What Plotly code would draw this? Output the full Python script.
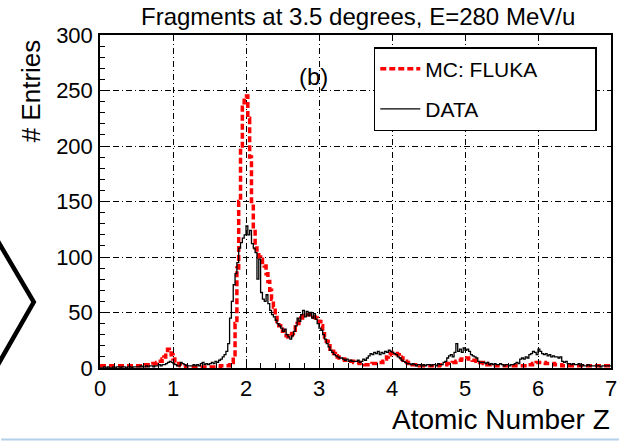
import numpy as np
import plotly.graph_objects as go

# ---------------- data ----------------
BIN_W = 0.025  # bin width in Z
Z_MIN, Z_MAX = 0.0, 7.0

# MC: FLUKA (entries per bin), each row covers 0.25 in Z
mc_fluka = [
    2, 2, 2, 2, 2, 2, 2, 2, 2, 2,
    2, 2, 2, 2, 2, 2, 2, 2, 2, 2,
    2, 2, 2, 2, 2, 3, 3, 3, 3, 4,
    4, 5, 6, 6, 8, 10, 14, 17, 16, 12,
    8, 5, 4, 3, 2, 2, 2, 1, 1, 1,
    1, 1, 1, 1, 1, 1, 1, 1, 1, 1,
    1, 1, 1, 1, 1, 1, 2, 2, 2, 2,
    2, 3, 5, 12, 40, 90, 150, 200, 235, 245,
    245, 225, 190, 150, 125, 108, 102, 100, 98, 95,
    92, 85, 78, 70, 62, 55, 48, 42, 38, 35,
    33, 31, 29, 28, 29, 31, 34, 37, 40, 43,
    45, 47, 48, 48, 48, 48, 47, 46, 45, 44,
    42, 38, 33, 28, 24, 20, 17, 15, 13, 11,
    10, 9, 8, 8, 7, 7, 6, 6, 6, 5,
    5, 5, 4, 4, 4, 3, 3, 3, 3, 4,
    4, 4, 4, 5, 5, 6, 8, 10, 12, 13,
    14, 14, 13, 12, 10, 9, 7, 6, 5, 4,
    4, 3, 3, 3, 3, 2, 2, 2, 2, 2,
    2, 2, 2, 2, 2, 2, 3, 3, 3, 3,
    4, 4, 4, 5, 5, 6, 7, 7, 8, 8,
    8, 9, 8, 8, 7, 7, 6, 6, 5, 5,
    4, 4, 3, 3, 3, 2, 2, 2, 2, 2,
    2, 2, 2, 2, 2, 2, 2, 2, 2, 2,
    2, 2, 2, 2, 3, 3, 3, 4, 4, 5,
    5, 5, 5, 5, 4, 4, 4, 4, 4, 3,
    3, 3, 3, 2, 2, 2, 2, 2, 2, 2,
    2, 2, 2, 2, 2, 2, 2, 2, 2, 2,
    2, 2, 2, 2, 2, 2, 2, 2, 2, 2,
]

# DATA (entries per bin), each row covers 0.25 in Z
data_counts = [
    0, 0, 1, 0, 1, 0, 0, 1, 0, 1,
    1, 0, 1, 1, 0, 1, 1, 0, 1, 1,
    1, 1, 2, 1, 1, 2, 1, 2, 2, 1,
    2, 2, 3, 2, 3, 3, 4, 5, 6, 5,
    4, 3, 2, 2, 5, 4, 3, 2, 2, 2,
    2, 3, 2, 3, 2, 4, 5, 3, 4, 3,
    4, 5, 4, 6, 5, 7, 8, 10, 12, 15,
    22, 45, 60, 75, 85, 95, 108, 113, 117, 120,
    128, 120, 124, 112, 108, 104, 80, 98, 68, 62,
    60, 66, 58, 52, 48, 46, 43, 40, 38, 36,
    33, 35, 30, 28, 26, 29, 33, 38, 45, 42,
    48, 52, 46, 51, 47, 50, 45, 49, 44, 40,
    36, 34, 30, 26, 22, 19, 16, 14, 12, 11,
    10, 9, 9, 8, 7, 8, 6, 7, 6, 6,
    6, 7, 5, 6, 8, 7, 9, 11, 13, 12,
    14, 13, 15, 12, 14, 13, 15, 14, 16, 15,
    14, 13, 12, 10, 9, 7, 6, 5, 4, 4,
    3, 4, 3, 2, 3, 3, 2, 3, 2, 3,
    3, 2, 3, 3, 2, 4, 3, 3, 5, 6,
    9, 11, 12, 10, 14, 22, 15, 17, 14, 18,
    16, 17, 15, 12, 11, 10, 9, 6, 5, 5,
    5, 4, 5, 3, 4, 3, 4, 3, 3, 4,
    3, 2, 3, 3, 2, 3, 3, 4, 5, 4,
    8, 9, 8, 10, 9, 12, 13, 15, 14, 12,
    17, 15, 13, 12, 13, 11, 12, 10, 11, 10,
    10, 9, 10, 6, 5, 6, 4, 4, 3, 4,
    3, 3, 4, 2, 3, 2, 2, 3, 2, 2,
    2, 2, 2, 2, 1, 2, 2, 2, 2, 2,
]

x_ticks = [0, 1, 2, 3, 4, 5, 6, 7]
y_ticks = [0, 50, 100, 150, 200, 250, 300]

TITLE = "Fragments at 3.5 degrees, E=280 MeV/u"
X_TITLE = "Atomic Number Z"
Y_TITLE = "# Entries"
MC_NAME = "MC: FLUKA"
DATA_NAME = "DATA"

# --------------- figure ---------------
W, H = 625, 441
ML, MR, MT, MB = 100, 8, 35, 73
PW, PH = W - ML - MR, H - MT - MB


def px_x(p):  # pixel -> paper x
    return (p - ML) / PW


def px_y(p):  # pixel -> paper y
    return (H - MB - p) / PH


def step_xy(counts):
    n = len(counts)
    edges = Z_MIN + np.arange(n + 1) * BIN_W
    ys = list(counts) + [counts[-1]]
    return edges, ys


FONT = "Liberation Sans, Arial, sans-serif"
PAD = "\u00a0" * 9  # widens the legend box to the reference size

fig = go.Figure()
ex, ey = step_xy(mc_fluka)
fig.add_trace(go.Scatter(
    x=ex, y=ey, mode="lines", line_shape="hv", name=MC_NAME + PAD,
    legendgroup="a",
    line=dict(color="#ff0000", width=3.5, dash="6px,3px"),
))
dx, dy = step_xy(data_counts)
fig.add_trace(go.Scatter(
    x=dx, y=dy, mode="lines", line_shape="hv", name=DATA_NAME,
    legendgroup="b",
    line=dict(color="#000000", width=1.3),
))

axis_common = dict(
    showline=True, linecolor="black", linewidth=1.5, mirror=True,
    ticks="inside", ticklen=9, tickwidth=1, tickcolor="black",
    showgrid=True, gridcolor="black", gridwidth=0.9, griddash="6px,3px,1px,3px",
    zeroline=False,
    tickfont=dict(family=FONT, size=22, color="black"),
)

fig.update_xaxes(
    range=[Z_MIN, Z_MAX], tickvals=x_ticks, ticktext=[str(v) for v in x_ticks],
    minor=dict(dtick=0.2, ticklen=5, tickcolor="black", ticks="inside", showgrid=False),
    **axis_common,
)
fig.update_yaxes(
    range=[0, 300], tickvals=y_ticks, ticktext=[str(v) for v in y_ticks],
    minor=dict(dtick=10, ticklen=5, tickcolor="black", ticks="inside", showgrid=False),
    ticklabelstandoff=1,
    **axis_common,
)

fig.update_layout(
    width=W, height=H,
    margin=dict(l=ML, r=MR, t=MT, b=MB, pad=0),
    paper_bgcolor="white", plot_bgcolor="white",
    font=dict(family=FONT, color="black"),
    showlegend=True,
    legend=dict(
        x=px_x(377), y=px_y(47), xanchor="left", yanchor="top",
        bgcolor="white", bordercolor="black", borderwidth=1.5,
        font=dict(family=FONT, size=21, color="black"),
        itemwidth=40, tracegroupgap=10,
        traceorder="grouped",
    ),
    annotations=[
        dict(text=TITLE, xref="paper", yref="paper", x=px_x(361), y=px_y(32),
             xanchor="center", yanchor="bottom", showarrow=False,
             font=dict(family=FONT, size=24, color="black")),
        dict(text=Y_TITLE, xref="paper", yref="paper", x=px_x(30), y=px_y(37),
             xanchor="center", yanchor="top", textangle=-90, showarrow=False,
             font=dict(family=FONT, size=26, color="black")),
        dict(text=X_TITLE, xref="paper", yref="paper", x=px_x(618), y=px_y(419),
             xanchor="right", yanchor="middle", showarrow=False,
             font=dict(family=FONT, size=28, color="black")),
        dict(text="(b)", xref="paper", yref="paper", x=px_x(316), y=px_y(76),
             xanchor="center", yanchor="middle", showarrow=False,
             font=dict(family=FONT, size=24, color="black")),
    ],
    shapes=[
        dict(type="path", xref="paper", yref="paper",
             path=f"M {px_x(-4)} {px_y(240)} L {px_x(33)} {px_y(302)} L {px_x(-4)} {px_y(366)}",
             line=dict(color="black", width=4.5)),
        dict(type="line", xref="paper", yref="paper",
             x0=px_x(0), x1=px_x(W), y0=px_y(439.5), y1=px_y(439.5),
             line=dict(color="#b4cfe9", width=2)),
    ],
)

fig.write_html("out.html")
